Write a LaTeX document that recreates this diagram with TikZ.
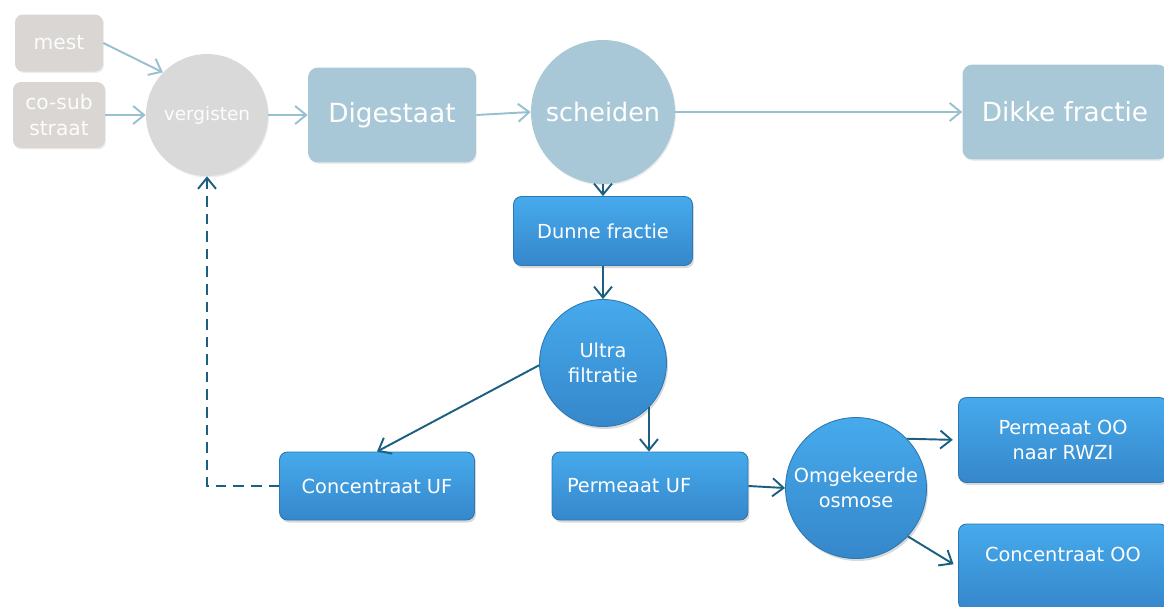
\documentclass[tikz,border=0pt]{standalone}
\usepackage{fontspec}
\setmainfont{DejaVu Sans}
\usepackage{xcolor}
\usetikzlibrary{arrows.meta,shadows}

\definecolor{grijs}{HTML}{D9D6D3}
\definecolor{grijsrondkleur}{HTML}{D9D9D9}
\definecolor{lichtblauw}{HTML}{A9C8D7}
\definecolor{lichtpijl}{HTML}{98C0D1}
\definecolor{blauwboven}{HTML}{46AAEC}
\definecolor{blauwonder}{HTML}{3587CA}
\definecolor{blauwrand}{HTML}{2C78B2}
\definecolor{donkerpijl}{HTML}{1C5F80}

\begin{document}
\begin{tikzpicture}[x=0.02cm,y=-0.02cm,
  grijsbox/.style={rounded corners=0.16cm,fill=grijs,text=white!96!grijs,font=\fontsize{11.5}{14.5}\selectfont,align=center,drop shadow={opacity=0.15,shadow xshift=0.02cm,shadow yshift=-0.03cm}},
  grijsrond/.style={circle,fill=grijsrondkleur,text=white!96!grijs,font=\fontsize{10.5}{12}\selectfont,drop shadow={opacity=0.15,shadow xshift=0.02cm,shadow yshift=-0.03cm}},
  paarsbox/.style={rounded corners=0.2cm,fill=lichtblauw,text=white,font=\fontsize{15}{17}\selectfont,drop shadow={opacity=0.15,shadow xshift=0.02cm,shadow yshift=-0.03cm}},
  paarsrond/.style={circle,fill=lichtblauw,text=white,font=\fontsize{14.5}{17}\selectfont,drop shadow={opacity=0.15,shadow xshift=0.02cm,shadow yshift=-0.03cm}},
  blauwbox/.style={rounded corners=0.16cm,top color=blauwboven,bottom color=blauwonder,draw=blauwrand,line width=0.5pt,text=white,font=\fontsize{11}{14}\selectfont,align=center,drop shadow={opacity=0.3,shadow xshift=0.03cm,shadow yshift=-0.05cm}},
  blauwrond/.style={circle,top color=blauwboven,bottom color=blauwonder,draw=blauwrand,line width=0.5pt,text=white,font=\fontsize{11}{14}\selectfont,align=center,inner sep=0pt,drop shadow={opacity=0.3,shadow xshift=0.03cm,shadow yshift=-0.05cm}},
  lichtlijn/.style={draw=lichtpijl,line width=1.1pt,-{Straight Barb[length=2.2mm,width=3.6mm]}},
  donkerlijn/.style={draw=donkerpijl,line width=1.1pt,-{Straight Barb[length=2.2mm,width=3.6mm]}}]
\useasboundingbox (0,0) rectangle (1164,606);

% bovenste rij (grijs)
\node[grijsbox,minimum width=1.76cm,minimum height=1.14cm] (mest) at (59,43) {mest};
\node[grijsbox,minimum width=1.84cm,minimum height=1.32cm] (cosub) at (59,115) {co-sub\\straat};
\node[grijsrond,minimum size=2.44cm] (verg) at (207,115) {vergisten};
\node[paarsbox,minimum width=3.36cm,minimum height=1.9cm] (dig) at (392,115) {Digestaat};
\node[paarsrond,minimum size=2.88cm] (sch) at (603,112) {scheiden};
\node[paarsbox,minimum width=4.1cm,minimum height=1.9cm] (dik) at (1065,112) {Dikke fractie};

% blauwe stappen
\node[blauwbox,minimum width=3.58cm,minimum height=1.38cm] (dun) at (603,231) {Dunne fractie};
\node[blauwrond,minimum size=2.54cm] (uf) at (603,363) {Ultra\\filtratie};
\node[blauwbox,minimum width=3.9cm,minimum height=1.36cm] (concUF) at (377,486) {Concentraat UF};
\node[blauwbox,minimum width=3.92cm,minimum height=1.36cm,inner xsep=0.3cm,text width=3.32cm,align=left] (permUF) at (650,486) {Permeaat UF};
\node[blauwrond,minimum size=2.82cm] (oo) at (856,488) {Omgekeerde\\osmose};
\node[blauwbox,minimum width=4.18cm,minimum height=1.7cm] (permOO) at (1063,440) {Permeaat OO\\naar RWZI};
\node[blauwbox,minimum width=4.18cm,minimum height=1.72cm,text depth=0.52cm] (concOO) at (1063,567) {Concentraat OO};

% pijlen
\draw[lichtlijn] (mest.east) -- (verg.136);
\draw[lichtlijn] (cosub.east) -- (verg.west);
\draw[lichtlijn] (verg.east) -- (dig.west);
\draw[lichtlijn] (dig.east) -- (sch.west);
\draw[lichtlijn] (sch.east) -- (dik.west);
\draw[donkerlijn] (sch.south) -- (dun.north);
\draw[donkerlijn] (dun.south) -- (uf.north);
\draw[donkerlijn] (uf.182) -- (concUF.north);
\draw[donkerlijn] (uf.-44) -- (uf.-44 |- permUF.north);
\draw[donkerlijn] (permUF.east) -- (oo.west);
\draw[donkerlijn,shorten >=3pt] (oo.44) -- (permOO.west);
\draw[donkerlijn,shorten >=3pt] (oo.-43) -- (concOO.west);
\draw[donkerlijn,dash pattern=on 6pt off 4pt] (concUF.west) -| (verg.south);
\end{tikzpicture}
\end{document}
